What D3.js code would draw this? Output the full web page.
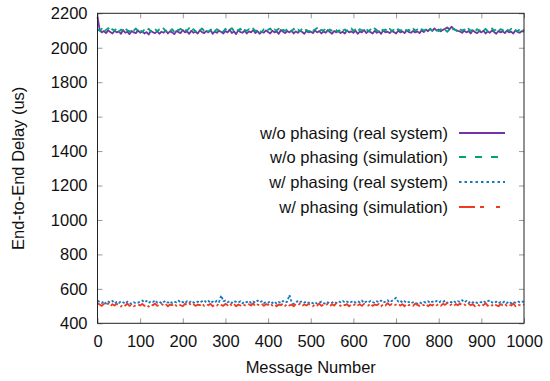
<!DOCTYPE html>
<html><head><meta charset="utf-8">
<script src="https://cdn.jsdelivr.net/npm/d3@7"></script>
<style>
html,body{margin:0;padding:0;background:#fff;}
text{font-family:"Liberation Sans",Arial,Helvetica,sans-serif;fill:#111;}
</style></head>
<body><svg id="c" width="550" height="381"></svg>
<script>
const step = 5; // message sampling step
const seriesNames = ["w/o phasing (real system)","w/o phasing (simulation)","w/ phasing (real system)","w/ phasing (simulation)"];
const seriesColors = ["#7335a6","#00a374","#1678c2","#ef3a1f"];
const legendDash = [null,"7,9","2.5,3","16,5,4,12,4,12"];
const plotDash = [null,"6,4","2.5,2","9,3,2.5,3"];
const xTicks = [0,100,200,300,400,500,600,700,800,900,1000];
const yTicks = [400,600,800,1000,1200,1400,1600,1800,2000,2200];

const woReal = [
2180,2105,2089,2097,2085,2101,2091,2083,2099,2089,
2095,2081,2103,2087,2093,2079,2097,2089,2085,2101,
2087,2095,2083,2091,2077,2099,2089,2085,2097,2081,
2093,2087,2101,2083,2095,2089,2079,2097,2091,2085,
2103,2089,2095,2081,2099,2087,2093,2083,2101,2091,
2085,2097,2089,2103,2081,2095,2087,2099,2091,2083,
2097,2089,2105,2085,2095,2079,2101,2091,2087,2099,
2083,2095,2089,2103,2085,2097,2081,2093,2087,2101,
2091,2083,2099,2089,2095,2081,2103,2093,2085,2097,
2089,2101,2083,2095,2087,2099,2091,2081,2097,2089,
2093,2085,2101,2089,2097,2083,2095,2087,2103,2091,
2081,2097,2089,2099,2085,2093,2083,2101,2089,2095,
2087,2099,2081,2093,2089,2103,2085,2097,2091,2083,
2099,2087,2095,2081,2101,2089,2093,2085,2097,2091,
2083,2099,2089,2095,2085,2101,2091,2087,2097,2089,
2095,2085,2101,2091,2106,2096,2110,2098,2112,2100,
2106,2096,2104,2110,2118,2106,2122,2110,2102,2098,
2095,2087,2099,2089,2097,2083,2101,2091,2085,2097,
2089,2099,2083,2095,2087,2101,2091,2081,2097,2089,
2095,2085,2099,2089,2093,2083,2101,2091,2087,2097,
2093];
const woSim = [
2106,2098,2110,2094,2104,2114,2096,2108,2100,2112,
2092,2106,2098,2110,2102,2094,2108,2100,2112,2096,
2104,2090,2106,2098,2110,2094,2102,2108,2096,2106,
2100,2112,2094,2104,2098,2108,2092,2106,2102,2110,
2096,2104,2100,2114,2098,2108,2094,2106,2102,2112,
2098,2106,2092,2104,2110,2096,2108,2100,2106,2094,
2110,2098,2104,2114,2096,2106,2100,2110,2094,2104,
2098,2108,2102,2112,2096,2106,2100,2090,2108,2098,
2104,2112,2094,2106,2100,2110,2096,2104,2098,2108,
2102,2094,2110,2098,2106,2096,2112,2100,2104,2094,
2108,2098,2106,2114,2096,2104,2100,2110,2094,2106,
2098,2108,2102,2092,2110,2100,2106,2096,2104,2112,
2098,2106,2094,2108,2100,2104,2110,2096,2106,2098,
2112,2102,2094,2108,2100,2106,2096,2110,2098,2104,
2094,2108,2100,2106,2112,2098,2104,2096,2110,2100,
2106,2096,2108,2100,2104,2094,2110,2098,2106,2102,
2096,2108,2100,2104,2092,2106,2098,2110,2102,2094,
2108,2100,2106,2096,2110,2098,2104,2094,2108,2100,
2106,2098,2110,2096,2104,2112,2100,2106,2094,2108,
2102,2096,2106,2098,2110,2100,2104,2094,2108,2098,
2104];
const wReal = [
532,524,518,528,514,526,520,530,516,524,
518,528,522,514,526,518,512,522,516,520,
526,532,522,530,518,528,524,534,520,526,
516,524,530,520,528,518,526,522,532,520,
524,516,528,520,530,522,518,526,520,528,
534,522,530,518,526,520,532,524,562,528,
532,522,528,518,530,524,520,528,516,526,
522,530,518,526,520,532,522,528,516,524,
520,528,518,526,514,524,518,530,520,526,
565,522,512,518,532,524,528,520,526,518,
524,516,522,514,520,526,518,512,522,516,
520,526,518,528,522,530,520,526,518,524,
530,520,528,522,532,518,526,520,530,524,
518,528,522,532,520,526,534,522,530,538,
548,526,532,520,528,518,524,516,522,518,
514,522,516,524,520,528,518,526,522,530,
520,528,524,532,518,526,522,530,520,528,
524,534,522,530,518,528,520,526,518,524,
522,530,520,528,534,522,518,526,516,524,
520,528,518,526,516,524,520,528,522,526,
524];
const wSim = [
517,509,501,513,505,515,499,511,503,513,
507,497,511,503,515,501,509,499,505,511,
503,513,501,509,497,511,505,515,501,507,
513,503,511,499,509,505,515,501,511,505,
499,513,507,517,503,511,501,509,505,515,
501,511,505,513,499,509,503,515,507,501,
513,505,517,501,511,499,509,503,513,505,
501,511,503,515,499,509,505,513,501,511,
507,517,503,511,499,509,505,515,501,513,
503,509,499,511,505,515,501,509,503,513,
505,499,511,503,515,501,509,505,513,499,
511,503,517,507,501,513,505,511,499,509,
503,515,505,511,501,513,507,503,515,501,
509,505,513,499,511,503,517,505,511,501,
509,515,503,511,499,513,505,509,501,515,
507,501,511,505,513,499,509,503,515,505,
511,501,513,507,517,503,509,499,511,505,
515,503,509,501,513,505,511,499,509,503,
513,505,517,501,511,503,515,505,499,511,
505,513,501,509,503,515,499,511,505,501,
509];
const allSeries = [woReal, woSim, wReal, wSim];

const svg = d3.select("#c");
const L = 97.5, R = 524, T = 13.3, B = 323.3;
const x = d3.scaleLinear().domain([0,1000]).range([L,R]);
const y = d3.scaleLinear().domain([400,2200]).range([B,T]);
const fs = "16.5px";

function styleAxis(g){
  g.select(".domain").remove();
  g.selectAll(".tick line").attr("stroke","#999").attr("stroke-width",1);
  g.selectAll("text").style("font-size",fs).attr("fill","#111");
}
svg.append("g").attr("transform",`translate(${L},0)`)
  .call(d3.axisLeft(y).tickValues(yTicks).tickSize(-5).tickPadding(10).tickFormat(d3.format("d"))).call(styleAxis);
svg.append("g").attr("transform",`translate(${R},0)`)
  .call(d3.axisRight(y).tickValues(yTicks).tickSize(-5).tickFormat("")).call(styleAxis);
svg.append("g").attr("transform",`translate(0,${B})`)
  .call(d3.axisBottom(x).tickValues(xTicks).tickSize(-5).tickPadding(12).tickFormat(d3.format("d"))).call(styleAxis);
svg.append("g").attr("transform",`translate(0,${T})`)
  .call(d3.axisTop(x).tickValues(xTicks).tickSize(-5).tickFormat("")).call(styleAxis);

const line = d3.line().x((d,i)=>x(i*step)).y(d=>y(d));
allSeries.forEach((s,k)=>{
  const p = svg.append("path").datum(s).attr("d",line)
    .attr("fill","none").attr("stroke",seriesColors[k]).attr("stroke-width",1.8)
    .attr("stroke-linejoin","round");
  if(plotDash[k]) p.attr("stroke-dasharray",plotDash[k]);
});

svg.append("rect").attr("x",L).attr("y",T).attr("width",R-L).attr("height",B-T)
  .attr("fill","none").attr("stroke","#222").attr("stroke-width",1);

// legend
const legY = [133,157,182,207];
seriesNames.forEach((n,k)=>{
  svg.append("text").attr("x",448).attr("y",legY[k]+6).attr("text-anchor","end")
    .style("font-size",fs).text(n);
  const l = svg.append("line").attr("x1",459).attr("x2",505).attr("y1",legY[k]).attr("y2",legY[k])
    .attr("stroke",seriesColors[k]).attr("stroke-width",2);
  if(legendDash[k]) l.attr("stroke-dasharray",legendDash[k]);
});

svg.append("text").attr("x",(L+R)/2).attr("y",373).attr("text-anchor","middle")
  .style("font-size",fs).text("Message Number");
svg.append("text").attr("transform",`translate(24,${(T+B)/2}) rotate(-90)`).attr("text-anchor","middle")
  .style("font-size",fs).text("End-to-End Delay (us)");
</script></body></html>
